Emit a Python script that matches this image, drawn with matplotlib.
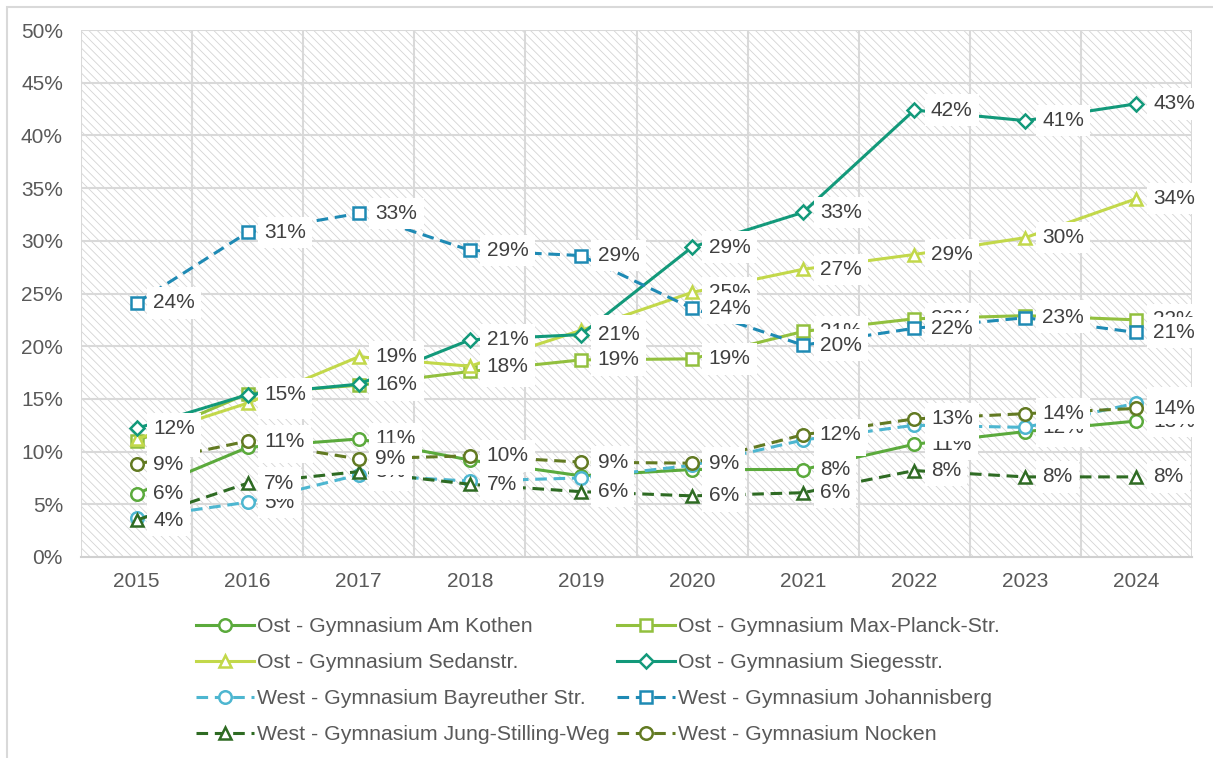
import matplotlib
matplotlib.use("Agg")
import matplotlib.pyplot as plt
from matplotlib.patches import Rectangle

plt.rcParams['font.family'] = ['Liberation Sans', 'DejaVu Sans']
plt.rcParams['hatch.linewidth'] = 0.6

years = ['2015', '2016', '2017', '2018', '2019', '2020', '2021', '2022', '2023', '2024']

# share per school and year, in percent
am_kothen = [6.0, 10.4, 11.2, 9.2, 7.7, 8.3, 8.3, 10.7, 11.9, 12.9]
max_planck = [11.0, 15.5, 16.3, 17.6, 18.7, 18.8, 21.4, 22.6, 22.9, 22.5]
sedanstr = [11.2, 14.6, 19.0, 18.1, 21.5, 25.1, 27.3, 28.7, 30.3, 34.0]
siegesstr = [12.2, 15.4, 16.4, 20.6, 21.1, 29.4, 32.7, 42.4, 41.4, 43.0]
bayreuther = [3.7, 5.2, 7.8, 7.2, 7.5, 8.7, 11.1, 12.5, 12.3, 14.6]
johannisberg = [24.1, 30.8, 32.6, 29.1, 28.6, 23.6, 20.1, 21.7, 22.7, 21.3]
jung_stilling = [3.5, 7.0, 8.1, 6.9, 6.2, 5.8, 6.1, 8.2, 7.6, 7.6]
nocken = [8.8, 11.0, 9.3, 9.6, 9.0, 8.9, 11.6, 13.1, 13.6, 14.1]

series = [
    ('Ost - Gymnasium Am Kothen', am_kothen, '#5BAA3C', 'o', '-'),
    ('Ost - Gymnasium Max-Planck-Str.', max_planck, '#92C03E', 's', '-'),
    ('Ost - Gymnasium Sedanstr.', sedanstr, '#C2D84A', '^', '-'),
    ('Ost - Gymnasium Siegesstr.', siegesstr, '#12997A', 'D', '-'),
    ('West - Gymnasium Bayreuther Str.', bayreuther, '#4DB6D0', 'o', '--'),
    ('West - Gymnasium Johannisberg', johannisberg, '#1E8AB4', 's', '--'),
    ('West - Gymnasium Jung-Stilling-Weg', jung_stilling, '#2E6B23', '^', '--'),
    ('West - Gymnasium Nocken', nocken, '#627A22', 'o', '--'),
]

FS = 15

fig = plt.figure(figsize=(12.13, 7.58), dpi=100)
ax = fig.add_axes([81 / 1213, 1 - 557 / 758, (1192 - 81) / 1213, (557 - 30) / 758])

# thin border round the chart area
fig.patches.append(Rectangle((7 / 1213, -0.1), 1.2, 1 - 7 / 758 + 0.1,
                             transform=fig.transFigure, fill=False,
                             edgecolor='#D9D9D9', linewidth=1.5))

# hatched plot area
ax.add_patch(Rectangle((0, 0), 1, 1, transform=ax.transAxes, facecolor='white',
                       edgecolor='#D4D4D4', hatch='\\\\\\\\', linewidth=0, zorder=0))

x = list(range(len(years)))
handles = []
for i, (name, vals, color, marker, ls) in enumerate(series):
    msize = 9 if marker != 'D' else 7.5
    line, = ax.plot(x, vals, color=color, linestyle=ls, linewidth=2.2,
                    marker=marker, markersize=msize, markerfacecolor='white',
                    markeredgecolor=color, markeredgewidth=1.8, zorder=3 + i * 0.01)
    if ls == '--':
        line.set_dashes((3.8, 2.2))
    handles.append(line)

# value labels, later series sit on top
for i, (name, vals, color, marker, ls) in enumerate(series):
    for xi, v in zip(x, vals):
        ax.annotate('{:.0f}%'.format(v), (xi, v), xytext=(12, 0),
                    textcoords='offset points', ha='left', va='center',
                    fontsize=FS, color='#404040', zorder=10 + i,
                    bbox=dict(boxstyle='square,pad=0.3', facecolor='white',
                              edgecolor='none'))

ax.set_xlim(-0.5, 9.5)
ax.set_ylim(0, 50)
ax.set_yticks(range(0, 51, 5))
ax.set_yticklabels(['{}%'.format(t) for t in range(0, 51, 5)])
ax.set_xticks(x)
ax.set_xticklabels(years)
ax.tick_params(axis='both', length=0, labelsize=FS, labelcolor='#595959')
ax.tick_params(axis='y', pad=13)
ax.tick_params(axis='x', pad=11)

for v in [i - 0.5 for i in range(11)]:
    ax.axvline(v, color='#D9D9D9', linewidth=1.5, zorder=1)
for t in range(5, 51, 5):
    ax.axhline(t, color='#D9D9D9', linewidth=1.5, zorder=1)
for side in ['top', 'right', 'left']:
    ax.spines[side].set_visible(False)
ax.spines['bottom'].set_color('#D0D0D0')
ax.spines['bottom'].set_linewidth(1.5)

order = [0, 2, 4, 6, 1, 3, 5, 7]
leg = fig.legend([handles[k] for k in order], [series[k][0] for k in order],
                 ncol=2, loc='upper left', bbox_to_anchor=(196 / 1213, 1 - 617 / 758),
                 frameon=False, fontsize=15.3, handlelength=2.75, handletextpad=0.12,
                 columnspacing=0.35, labelspacing=0.8, borderpad=0, borderaxespad=0)
for t in leg.get_texts():
    t.set_color('#595959')

fig.savefig('out.png', dpi=100)
